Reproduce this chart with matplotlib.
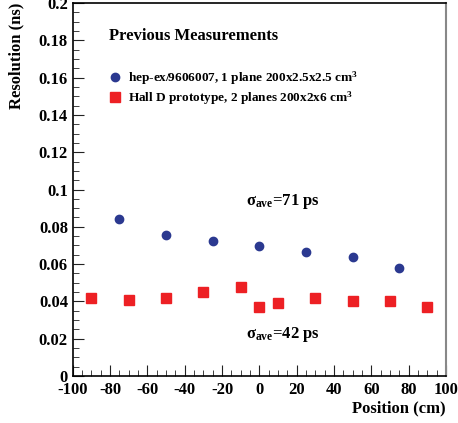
import matplotlib
matplotlib.use("Agg")
import matplotlib.pyplot as plt
from matplotlib.ticker import MultipleLocator, AutoMinorLocator

# hep-ex/9606007 measurements
old_pos = [-75, -50, -25, 0, 25, 50, 75]
old_res = [0.084, 0.0755, 0.0725, 0.0695, 0.0665, 0.064, 0.058]

# Hall D prototype
hd_pos = [-90, -70, -50, -30, -10, 0, 10, 30, 50, 70, 90]
hd_res = [0.042, 0.041, 0.042, 0.045, 0.048, 0.037, 0.039, 0.042, 0.040, 0.040, 0.037]

yticks = [0, 0.02, 0.04, 0.06, 0.08, 0.1, 0.12, 0.14, 0.16, 0.18, 0.2]
ytick_labels = ['0', '0.02', '0.04', '0.06', '0.08', '0.1', '0.12',
                '0.14', '0.16', '0.18', '0.2']

plt.rcParams['font.family'] = ['Liberation Serif', 'DejaVu Serif']
plt.rcParams['font.weight'] = 'bold'
plt.rcParams['axes.unicode_minus'] = False
plt.rcParams['mathtext.fontset'] = 'custom'
plt.rcParams['mathtext.rm'] = 'Liberation Serif:bold'
plt.rcParams['mathtext.it'] = 'Liberation Serif:bold'
plt.rcParams['mathtext.bf'] = 'Liberation Serif:bold'

fig = plt.figure(figsize=(4.58, 4.23), dpi=100)
ax = fig.add_axes([0.159, 0.111, 0.815, 0.882])

ax.plot(old_pos, old_res, 'o', color='#2b3990', markersize=6,
        label=r'hep-ex/9606007, 1 plane 200x2.5x2.5 cm$^{3}$')
ax.plot(hd_pos, hd_res, 's', color='#ed2024', markersize=6.5,
        label=r'Hall D prototype, 2 planes 200x2x6 cm$^{3}$')

ax.set_xlim(-100, 100)
ax.set_ylim(0, 0.2)
ax.xaxis.set_major_locator(MultipleLocator(20))
ax.xaxis.set_minor_locator(AutoMinorLocator(4))
ax.set_yticks(yticks)
ax.set_yticklabels(ytick_labels)
ax.yaxis.set_minor_locator(AutoMinorLocator(4))
ax.tick_params(which='both', direction='in', top=False, right=False,
               labelsize=12, color='#222222')
ax.tick_params(which='major', length=8)
ax.tick_params(which='minor', length=4)
ax.tick_params(axis='x', pad=4)
for lab in ax.get_xticklabels() + ax.get_yticklabels():
    lab.set_fontweight('bold')
ax.spines['right'].set_color('#888888')
ax.spines['right'].set_linewidth(1.5)
for s in ['left', 'bottom', 'top']:
    ax.spines[s].set_linewidth(1.2)

ax.set_xlabel('Position (cm)', fontsize=12, fontweight='bold', loc='right',
              labelpad=2)
ax.set_ylabel('Resolution (ns)', fontsize=12, fontweight='bold')
ax.yaxis.label.set_va('center')
ax.yaxis.label.set_ha('right')
ax.yaxis.set_label_coords(-0.15, 1.0)

ax.text(-80.5, 0.1825, 'Previous Measurements', fontsize=12, fontweight='bold',
        va='center')
ax.legend(loc='upper left', bbox_to_anchor=(0.06, 0.855), frameon=False,
          handletextpad=0.35, labelspacing=0.25, handlelength=1.2,
          prop={'weight': 'bold', 'size': 9.5})

ax.text(-7, 0.0915, r'$\sigma_{\rm ave}$=71 ps', fontsize=12, fontweight='bold')
ax.text(-7, 0.0205, r'$\sigma_{\rm ave}$=42 ps', fontsize=12, fontweight='bold')

fig.savefig('out.png', dpi=100)
